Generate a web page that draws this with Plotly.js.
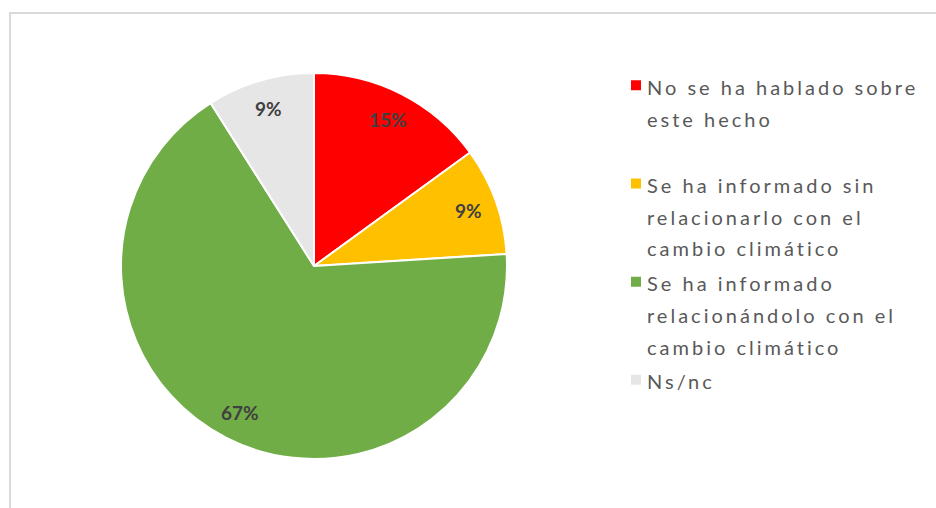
<!DOCTYPE html>
<html>
<head>
<meta charset="utf-8">
<script src="https://cdn.plot.ly/plotly-3.0.1.min.js"></script>
<style>
  html, body { margin: 0; padding: 0; background: #ffffff; overflow: hidden; }
  #chart { width: 936px; height: 508px; }
  .legendtext { letter-spacing: 3px; transform: translateX(-9px); }
</style>
</head>
<body>
<div id="chart"></div>
<script>
// Data
const categories = [
  "No se ha hablado sobre<br>este hecho",
  "Se ha informado sin<br>relacionarlo con el<br>cambio climático",
  "Se ha informado<br>relacionándolo con el<br>cambio climático",
  "Ns/nc"
];
const values = [15, 9, 67, 9];
const colors = ["#FF0000", "#FFC000", "#70AD47", "#E7E6E6"];

// Legend: glyphs at 20px inside a 24.4px line box; pad entries to 3 lines
const slotLines = 3;
const legendLabels = categories.map(c => {
  let lines = c.split("<br>");
  while (lines.length < slotLines && c !== categories[categories.length - 1]) lines.push(" ");
  return lines.map(l => '<span style="font-size:20px">' + l + '</span>').join("<br>");
});

const W = 936, H = 508;
const cx = 314, cy = 266, r = 193;
const total = values.reduce((a, b) => a + b, 0);

// data labels placed along each slice's mid-angle (clockwise from 12 o'clock)
const annotations = [];
let cum = 0;
values.forEach((v, i) => {
  const mid = 90 - (cum + v / 2) / total * 360;
  cum += v;
  const rad = mid * Math.PI / 180;
  const rr = 0.85 * r;
  annotations.push({
    xref: "paper", yref: "paper",
    x: (cx + rr * Math.cos(rad)) / W,
    y: 1 - (cy - rr * Math.sin(rad)) / H,
    xanchor: "center", yanchor: "middle",
    showarrow: false,
    text: Math.round(v / total * 100) + "%",
    font: { family: "Lato, 'Open Sans', sans-serif", size: 19, color: "#404040", weight: "bold" }
  });
});

const trace = {
  type: "pie",
  labels: legendLabels,
  values: values,
  sort: false,
  direction: "clockwise",
  rotation: 0,
  marker: { colors: colors, line: { color: "#ffffff", width: 2 } },
  textinfo: "none",
  hoverinfo: "label+percent",
  domain: {
    x: [(cx - r) / W, (cx + r) / W],
    y: [(H - cy - r) / H, (H - cy + r) / H]
  }
};

const layout = {
  width: W,
  height: H,
  margin: { l: 0, r: 0, t: 0, b: 0 },
  paper_bgcolor: "#ffffff",
  showlegend: true,
  legend: {
    x: 616 / W,
    xanchor: "left",
    y: 1 - 63 / H,
    yanchor: "top",
    valign: "top",
    traceorder: "normal",
    font: { family: "Lato, 'Open Sans', sans-serif", size: 24.4, color: "#595959" },
    bgcolor: "rgba(0,0,0,0)"
  },
  annotations: annotations,
  shapes: [{
    type: "rect",
    xref: "paper", yref: "paper",
    x0: 10 / W, x1: 1.2,
    y0: -0.2, y1: 1 - 13 / H,
    line: { color: "#D9D9D9", width: 2 },
    fillcolor: "rgba(0,0,0,0)",
    layer: "below"
  }]
};

Plotly.newPlot("chart", [trace], layout, { displayModeBar: false, staticPlot: true });
</script>
</body>
</html>
